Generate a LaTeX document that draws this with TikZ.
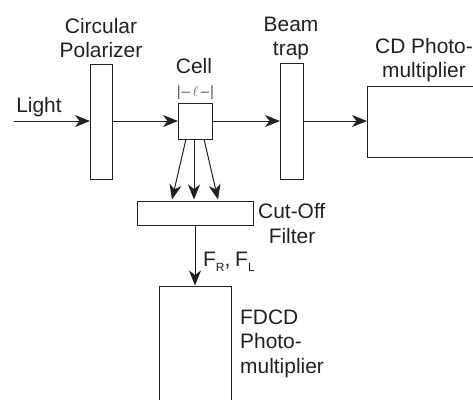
\documentclass[tikz,border=0pt]{standalone}
\usepackage{fontspec}
\setmainfont{Liberation Sans}
\usetikzlibrary{arrows.meta}
\definecolor{ink}{gray}{0.13}
\tikzset{
  box/.style={draw=ink,line width=1bp,fill=white,inner sep=0,outer sep=0,minimum width=#1},
  lab/.style={text=ink,font=\fontsize{21}{24}\selectfont,inner sep=0,anchor=base},
  labl/.style={lab,anchor=base west},
  conn/.style={draw=ink,line width=1bp,-{Stealth[length=15bp,width=12bp,inset=4.5bp]}},
  dim/.style={text=ink!75,font=\fontsize{15}{17}\selectfont,inner sep=0,anchor=base}
}
\begin{document}
\begin{tikzpicture}[x=1bp,y=-1bp]
\useasboundingbox (0,0) rectangle (473,399);
\clip (0,0) rectangle (473,399);
\node[box=22bp,minimum height=115bp,anchor=north west] (pol) at (90,64) {};
\node[box=34bp,minimum height=36bp,anchor=north west] (cell) at (178,103) {};
\node[box=23bp,minimum height=116bp,anchor=north west] (trap) at (280,63) {};
\node[box=130bp,minimum height=71bp,anchor=north west] (cd) at (367,86) {};
\node[box=116bp,minimum height=24bp,anchor=north west] (filter) at (137,201) {};
\node[box=72bp,minimum height=140bp,anchor=north west] (fdcd) at (159,286) {};
\coordinate (start) at (14,121);
\coordinate (a1) at (186,139);
\coordinate (a2) at (194,139);
\coordinate (a3) at (204,139);
\coordinate (b1) at (172,199.5);
\coordinate (b2) at (194,199.5);
\coordinate (b3) at (218,199.5);
\coordinate (c1) at (195,225);
\coordinate (c2) at (195,285.5);
\draw[conn] (start) -- (pol.west |- start);
\draw[conn] (pol.east |- start) -- (cell.west |- start);
\draw[conn] (cell.east |- start) -- (trap.west |- start);
\draw[conn] (trap.east |- start) -- (cd.west |- start);
\draw[conn] (a1) -- (b1);
\draw[conn] (a2) -- (b2);
\draw[conn] (a3) -- (b3);
\draw[conn] (c1) -- (c2);
\node[lab] (tlight) at (39,112) {Light};
\node[lab] (tcirc) at (101,33) {Circular};
\node[lab] (tpol) at (101,57) {Polarizer};
\node[lab] (tcell) at (194,73) {Cell};
\node[dim] (tdim) at (195.5,96) {|\kern1pt–\kern2.5pt$\ell$\kern2.5pt–\kern1pt|};
\node[lab] (tbeam) at (291,31) {Beam};
\node[lab] (ttrap) at (291,55) {trap};
\node[lab] (tcd) at (424,53) {CD Photo-};
\node[lab] (tmul) at (424,77) {multiplier};
\node[labl] (tcut) at (258,218) {Cut-Off};
\node[lab] (tfil) at (292,243) {Filter};
\node[labl] (tf) at (203,266) {F\raisebox{-5bp}{\fontsize{12}{14}\selectfont R},\kern-1pt{} F\raisebox{-5bp}{\fontsize{12}{14}\selectfont L}};
\node[labl] (tfd) at (240,324) {FDCD};
\node[labl] (tph) at (240,348) {Photo-};
\node[labl] (tmu) at (240,373) {multiplier};
\end{tikzpicture}
\end{document}
